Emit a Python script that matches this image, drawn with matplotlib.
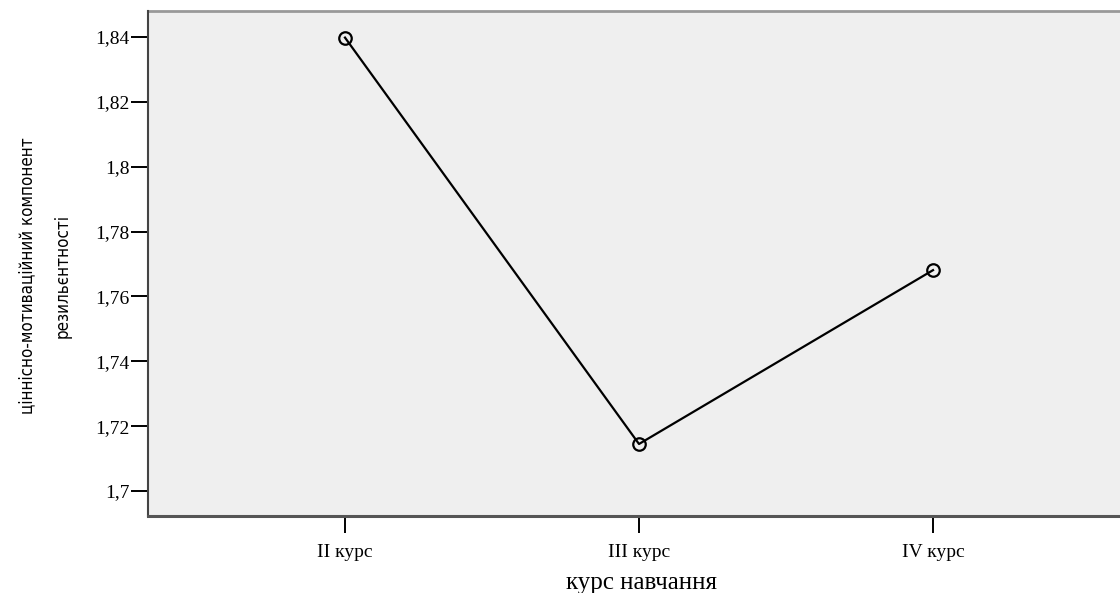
import matplotlib
matplotlib.use("Agg")
import matplotlib.pyplot as plt
from matplotlib import font_manager
from matplotlib.font_manager import FontProperties

categories = ["II курс", "III курс", "IV курс"]
values = [1.8398, 1.7145, 1.7681]
yticks = [1.70, 1.72, 1.74, 1.76, 1.78, 1.80, 1.82, 1.84]
ytick_labels = ["1,7", "1,72", "1,74", "1,76", "1,78", "1,8", "1,82", "1,84"]
xlabel = "курс навчання"
ylabel = "ціннісно-мотиваційний компонент\nрезильєнтності"

# choose a narrow sans font for the rotated y label
narrow_fp = None
narrow_size = 12
for f in font_manager.fontManager.ttflist:
    if f.name == "Liberation Sans Narrow" and f.style == "normal" and f.weight in (400, "normal"):
        narrow_fp = FontProperties(fname=f.fname)
        narrow_size = 14
        break
if narrow_fp is None:
    for f in font_manager.fontManager.ttflist:
        if f.name == "DejaVu Sans" and "ondensed" in f.fname and f.style == "normal" \
                and f.weight in (400, "normal"):
            narrow_fp = FontProperties(fname=f.fname)
            narrow_size = 12.2
            break
if narrow_fp is None:
    narrow_fp = FontProperties(family="Liberation Sans")
    narrow_size = 12
narrow_fp.set_size(narrow_size)

serif = "Liberation Serif"

W, H = 1120, 593
fig = plt.figure(figsize=(W / 100, H / 100), dpi=100)
left, right, top, bottom = 148, 1130, 11, 516
ax = fig.add_axes([left / W, 1 - bottom / H, (right - left) / W, (bottom - top) / H])
ax.set_facecolor("#efefef")

x = list(range(len(categories)))
ax.plot(x, values, color="black", lw=1.6, marker="o", markersize=9,
        markerfacecolor="none", markeredgecolor="black", markeredgewidth=1.6)

ax.set_xlim(-0.67, 2.67)
ax.set_ylim(1.6923, 1.848)
ax.set_xticks(x)
ax.set_xticklabels(categories, fontfamily=serif, fontsize=14)
ax.set_yticks(yticks)
ax.set_yticklabels(ytick_labels, fontfamily=serif, fontsize=14)
ax.tick_params(axis="both", direction="out", length=12, width=1.4, color="black")
ax.tick_params(axis="x", pad=8)
ax.tick_params(axis="y", pad=1)

for s in ["top", "right"]:
    ax.spines[s].set_visible(False)
ax.spines["left"].set_color("#444444")
ax.spines["left"].set_linewidth(1.5)
ax.spines["bottom"].set_color("#555555")
ax.spines["bottom"].set_linewidth(2.2)
ax.plot([0, 1], [1, 1], transform=ax.transAxes, color="#999999", lw=2.0, clip_on=False)

ax.set_xlabel(xlabel, fontfamily=serif, fontsize=18, va="center")
ax.xaxis.set_label_coords((641 - left) / (right - left), (bottom - 583) / (bottom - top))

ax.set_ylabel(ylabel, fontproperties=narrow_fp, va="center", linespacing=2.2)
ax.yaxis.set_label_coords((45 - left) / (right - left), (bottom - 276) / (bottom - top))

fig.savefig("out.png", dpi=100)
